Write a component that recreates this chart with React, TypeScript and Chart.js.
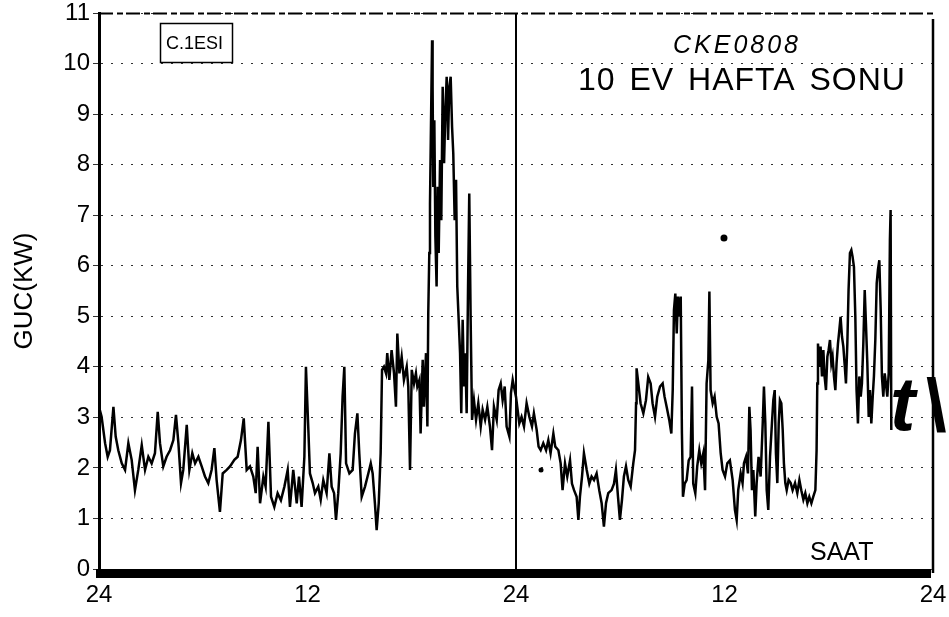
import React, { useEffect, useRef } from 'react';
import { Chart, registerables } from 'chart.js';

Chart.register(...registerables);

// ---- data (hours since start of the 48 h window, power in kW) ----
const hours = [
  0.00, 0.15, 0.35, 0.50, 0.63, 0.83, 0.96, 1.11, 1.31, 1.50, 1.69, 1.88, 2.07, 2.26, 2.46, 2.65, 2.84, 3.03, 3.22, 3.38,
  3.51, 3.70, 3.89, 4.09, 4.28, 4.43, 4.57, 4.72, 4.85, 5.05, 5.20, 5.37, 5.53, 5.72, 5.91, 6.10, 6.29, 6.48, 6.64, 6.77,
  6.96, 7.12, 7.35, 7.54, 7.79, 7.98, 8.17, 8.33, 8.50, 8.69, 8.88, 9.02, 9.13, 9.27, 9.46, 9.59, 9.75, 9.90, 10.09, 10.28,
  10.47, 10.67, 10.86, 10.99, 11.18, 11.38, 11.51, 11.66, 11.82, 11.91, 12.05,
  12.14, 12.30, 12.43, 12.62, 12.76, 12.91, 13.10, 13.26, 13.39, 13.53, 13.64, 13.77, 13.91, 14.02, 14.12, 14.22, 14.41, 14.60, 14.73, 14.87,
  14.98, 15.12, 15.31, 15.50, 15.64, 15.75, 15.88, 15.98, 16.10, 16.21, 16.29, 16.40, 16.52, 16.59, 16.71, 16.84, 16.98, 17.09, 17.17, 17.29,
  17.42, 17.55, 17.71, 17.80, 17.90, 18.00, 18.13, 18.24, 18.32, 18.44, 18.51, 18.63, 18.70, 18.82, 18.90, 18.95, 19.01, 19.05, 19.11, 19.17,
  19.20, 19.24, 19.30, 19.36, 19.43, 19.49, 19.55, 19.63, 19.70, 19.78, 19.86, 19.93, 20.01, 20.09, 20.16, 20.24, 20.32, 20.39, 20.47, 20.55,
  20.62, 20.70, 20.78, 20.85, 20.93, 21.01, 21.08, 21.16, 21.24, 21.31, 21.39, 21.47, 21.58, 21.70, 21.83, 21.97, 22.08, 22.22, 22.35, 22.50,
  22.62, 22.73, 22.89, 23.00, 23.12, 23.23, 23.35, 23.46, 23.62, 23.71, 23.81, 23.88, 24.00,
  24.19, 24.32, 24.46, 24.61, 24.77, 24.92, 25.03, 25.19, 25.30, 25.42, 25.57, 25.73, 25.86, 25.99, 26.15, 26.26, 26.44, 26.57, 26.68, 26.82,
  26.95, 27.11, 27.22, 27.34, 27.49, 27.59, 27.68, 27.80, 27.91, 28.07, 28.22, 28.35, 28.49, 28.64, 28.79, 28.93, 29.06, 29.18, 29.31, 29.50,
  29.64, 29.75, 29.87, 29.98, 30.10, 30.21, 30.33, 30.46, 30.60, 30.75, 30.85, 30.91, 30.94, 31.04, 31.17, 31.33, 31.48, 31.61, 31.75, 31.86,
  32.00, 32.13, 32.29, 32.44, 32.55, 32.67, 32.82, 32.94, 33.02, 33.09, 33.17, 33.25, 33.32, 33.40, 33.48, 33.55, 33.61, 33.71, 33.82, 33.94,
  34.05, 34.13, 34.20, 34.32, 34.43, 34.55, 34.66, 34.78, 34.88, 34.97, 35.07, 35.13, 35.20, 35.32, 35.43, 35.55, 35.66, 35.78, 35.89, 36.03,
  36.16, 36.31,
  36.47, 36.60, 36.70, 36.79, 36.93, 37.04, 37.12, 37.24, 37.35, 37.43, 37.50, 37.58, 37.66, 37.77, 37.85, 37.96, 38.08, 38.20, 38.27, 38.35,
  38.43, 38.52, 38.62, 38.73, 38.81, 38.89, 38.96, 39.04, 39.12, 39.19, 39.27, 39.35, 39.42, 39.50, 39.58, 39.69, 39.81, 39.92, 40.06, 40.19,
  40.31, 40.42, 40.54, 40.65, 40.77, 40.88, 41.00, 41.11, 41.23, 41.30, 41.34, 41.38, 41.46, 41.53, 41.61, 41.69, 41.76, 41.84, 41.92, 41.99,
  42.07, 42.15, 42.22, 42.30, 42.38, 42.45, 42.53, 42.61, 42.68, 42.76, 42.84, 42.91, 42.99, 43.07, 43.14, 43.22, 43.30, 43.37, 43.45, 43.53,
  43.60, 43.68, 43.76, 43.84, 43.91, 43.99, 44.07, 44.14, 44.22, 44.30, 44.37, 44.45, 44.53, 44.60, 44.68, 44.76, 44.83, 44.91, 44.99, 45.06,
  45.14, 45.22, 45.29, 45.37, 45.45, 45.52, 45.56, 45.60,
];

const kw = [
  3.21, 3.01, 2.49, 2.22, 2.35, 3.21, 2.62, 2.35, 2.09, 1.96, 2.49, 2.16, 1.56, 1.96, 2.45, 1.96, 2.22, 2.09, 2.29, 3.11,
  2.49, 2.03, 2.22, 2.35, 2.55, 3.05, 2.49, 1.70, 1.96, 2.85, 1.96, 2.29, 2.09, 2.22, 2.03, 1.83, 1.70, 1.96, 2.39, 1.76,
  1.13, 1.89, 1.96, 2.03, 2.16, 2.22, 2.55, 2.98, 1.96, 2.03, 1.83, 1.50, 2.42, 1.30, 1.83, 1.63, 2.91, 1.43, 1.23, 1.50,
  1.36, 1.63, 1.96, 1.23, 1.96, 1.30, 1.83, 1.23, 2.22, 4.00, 2.75,
  1.89, 1.70, 1.50, 1.63, 1.37, 1.76, 1.50, 2.29, 1.63, 1.50, 0.97, 1.50, 2.29, 3.41, 4.00, 2.09, 1.89, 1.96, 2.68, 3.08,
  2.29, 1.43, 1.63, 1.89, 2.09, 1.89, 1.30, 0.77, 1.30, 2.29, 3.94, 4.00, 3.87, 4.27, 3.74, 4.33, 3.87, 3.21, 4.66, 3.87,
  4.20, 3.74, 4.00, 3.61, 1.96, 3.94, 3.67, 3.87, 3.61, 3.74, 2.68, 4.14, 3.21, 4.27, 2.82, 5.06, 6.25, 7.23, 8.88, 10.46,
  9.54, 7.56, 8.88, 6.58, 5.59, 7.56, 6.25, 8.09, 6.90, 9.54, 8.03, 9.01, 9.74, 8.49, 9.54, 9.74, 8.75, 8.22, 6.90, 7.70,
  5.59, 4.93, 4.27, 3.08, 4.93, 3.61, 4.27, 3.08, 5.59, 7.43, 4.93, 2.95, 3.34, 2.95, 3.28, 2.82, 3.15, 2.95, 3.21, 2.82,
  2.35, 3.21, 2.95, 3.54, 3.67, 3.34, 3.61, 2.82, 2.62, 3.48, 3.74, 3.61, 3.41,
  2.88, 3.01, 2.82, 3.28, 3.01, 2.82, 3.08, 2.75, 2.42, 2.35, 2.49, 2.35, 2.55, 2.29, 2.68, 2.42, 2.35, 2.09, 1.56, 2.09,
  1.83, 2.15, 1.69, 1.56, 1.43, 0.97, 1.43, 1.83, 2.29, 1.96, 1.69, 1.83, 1.76, 1.89, 1.56, 1.30, 0.84, 1.30, 1.50, 1.56,
  1.69, 1.96, 1.43, 0.97, 1.37, 1.83, 2.03, 1.76, 1.63, 2.09, 2.35, 3.28, 3.97, 3.67, 3.28, 3.08, 3.34, 3.80, 3.67, 3.28,
  3.01, 3.41, 3.61, 3.67, 3.41, 3.21, 2.95, 2.68, 3.54, 5.12, 5.45, 4.66, 5.39, 4.99, 5.39, 2.68, 1.43, 1.69, 1.76, 2.15,
  2.22, 3.61, 1.69, 1.50, 2.03, 2.35, 2.09, 2.29, 1.56, 3.67, 4.13, 5.49, 3.54, 3.28, 3.41, 3.01, 2.88, 2.29, 1.96, 1.83,
  2.09, 2.15,
  1.76, 1.17, 0.97, 1.56, 1.89, 1.70, 2.09, 2.22, 1.89, 3.21, 2.75, 1.56, 1.96, 1.04, 1.70, 2.22, 1.83, 2.88, 3.61, 2.88,
  1.56, 1.17, 2.22, 2.88, 3.34, 3.54, 2.29, 1.70, 2.88, 3.34, 3.28, 2.75, 2.09, 1.70, 1.56, 1.76, 1.70, 1.56, 1.70, 1.50,
  1.76, 1.56, 1.37, 1.50, 1.30, 1.43, 1.30, 1.43, 1.56, 2.35, 3.67, 4.46, 4.00, 4.40, 3.81, 4.33, 3.81, 3.54, 4.20, 4.33,
  4.53, 4.07, 4.20, 3.81, 3.54, 4.07, 4.46, 4.73, 4.99, 4.60, 4.40, 4.07, 3.67, 4.46, 5.52, 6.25, 6.31, 6.18, 5.98, 4.99,
  3.54, 2.88, 3.81, 3.41, 3.67, 4.46, 5.52, 4.86, 4.07, 3.01, 3.54, 2.88, 3.41, 3.81, 4.53, 5.65, 5.92, 6.11, 5.12, 3.81,
  3.41, 3.87, 3.67, 3.41, 3.87, 6.51, 7.10, 2.75,
];

const strayHours = [35.97, 25.44];
const strayKw = [6.55, 1.96];

const xTickValues = [0, 12, 24, 36, 48];
const xTickLabels = ['24', '12', '24', '12', '24'];
const yMin = 0;
const yMax = 11;
const dayBoundaries = [24];

const yTitle = 'GUC(KW)';
const boxLabel = 'C.1ESI';
const codeLabel = 'CKE0808';
const titleLabel = '10 EV HAFTA SONU';
const xAxisLabel = 'SAAT';
const cornerLetter = 't';
const cornerSlash = '\\';

const FONT = '"Liberation Sans", Arial, Helvetica, sans-serif';

const decorPlugin = {
  id: 'decor',
  afterDraw(chart: any) {
    const ctx = chart.ctx as any;
    const { left, right, top, bottom } = chart.chartArea;
    ctx.save();
    ctx.fillStyle = '#000';
    ctx.strokeStyle = '#000';

    // top broken border
    ctx.lineWidth = 2;
    ctx.setLineDash([14, 4, 6, 3]);
    ctx.beginPath();
    ctx.moveTo(left, top + 0.5);
    ctx.lineTo(right, top + 0.5);
    ctx.stroke();
    ctx.setLineDash([]);

    // right border
    ctx.lineWidth = 2.5;
    ctx.beginPath();
    ctx.moveTo(right, top + 6);
    ctx.lineTo(right, bottom + 4);
    ctx.stroke();

    // bottom thick band
    ctx.fillRect(left - 3, bottom, right - left + 1, 9);

    // small boxed label
    ctx.lineWidth = 1.5;
    ctx.strokeRect(160.5, 23.5, 72, 39);
    ctx.font = `18px ${FONT}`;
    ctx.textBaseline = 'alphabetic';
    ctx.textAlign = 'left';
    ctx.fillText(boxLabel, 166, 49);

    // code label
    ctx.font = `italic 25px ${FONT}`;
    ctx.letterSpacing = '3px';
    ctx.fillText(codeLabel, 673, 53);

    // main title
    ctx.font = `32px ${FONT}`;
    ctx.letterSpacing = '1px';
    ctx.wordSpacing = '4px';
    ctx.fillText(titleLabel, 578, 90);
    ctx.letterSpacing = '0px';
    ctx.wordSpacing = '0px';

    // x axis label
    ctx.font = `25px ${FONT}`;
    ctx.fillText(xAxisLabel, 810, 560);

    // corner mark
    ctx.font = `italic bold 76px ${FONT}`;
    ctx.fillText(cornerLetter, 890, 430);
    ctx.font = `bold 74px ${FONT}`;
    ctx.fillText(cornerSlash, 926, 431);

    ctx.restore();
  },
};

export default function App() {
  const canvasRef = useRef<HTMLCanvasElement | null>(null);

  useEffect(() => {
    if (!canvasRef.current) return;
    const lineData = hours.map((h, i) => ({ x: h, y: kw[i] }));
    const dotData = strayHours.map((h, i) => ({ x: h, y: strayKw[i] }));

    const chart = new Chart(canvasRef.current, {
      type: 'line',
      data: {
        datasets: [
          {
            data: lineData,
            borderColor: '#000',
            borderWidth: 2.5,
            pointRadius: 0,
            tension: 0,
            fill: false,
          },
          {
            type: 'scatter',
            data: dotData,
            pointRadius: [3.5, 2.5],
            pointBackgroundColor: '#000',
            pointBorderWidth: 0,
            showLine: false,
          } as any,
        ],
      },
      options: {
        animation: false,
        responsive: true,
        maintainAspectRatio: false,
        layout: { padding: { top: 13, right: 16, left: 0, bottom: 0 } },
        plugins: {
          legend: { display: false },
          tooltip: { enabled: false },
          title: { display: false },
        },
        scales: {
          x: {
            type: 'linear',
            min: 0,
            max: 48,
            afterFit: (s: any) => {
              s.height = 48;
              s.paddingLeft = 0;
              s.paddingRight = 0;
            },
            afterBuildTicks: (s: any) => {
              s.ticks = xTickValues.map((v) => ({ value: v }));
            },
            ticks: {
              autoSkip: false,
              maxRotation: 0,
              padding: 14,
              color: '#000',
              font: { family: FONT, size: 24, lineHeight: 1 },
              callback: (v: any) => xTickLabels[xTickValues.indexOf(Number(v))] ?? '',
            },
            grid: {
              drawTicks: false,
              lineWidth: 2,
              color: (c: any) =>
                c.tick && dayBoundaries.includes(c.tick.value) ? '#000' : 'rgba(0,0,0,0)',
            },
            border: { display: false },
          },
          y: {
            type: 'linear',
            min: yMin,
            max: yMax,
            afterFit: (s: any) => {
              s.width = 99;
              s.paddingTop = 0;
              s.paddingBottom = 0;
            },
            ticks: {
              stepSize: 1,
              padding: 3,
              color: '#000',
              font: { family: FONT, size: 24, lineHeight: 1 },
            },
            grid: {
              color: '#333',
              lineWidth: 1,
              tickLength: 6,
              drawTicks: true,
            },
            border: { display: true, color: '#000', width: 3, dash: [2, 8] },
            title: {
              display: true,
              text: yTitle,
              color: '#000',
              font: { family: FONT, size: 26 },
              padding: { top: 9, bottom: 0 },
            },
          },
        },
      },
      plugins: [decorPlugin],
    } as any);

    return () => chart.destroy();
  }, []);

  return (
    <div style={{ position: 'absolute', left: 0, top: 0, width: 949, height: 617, background: '#fff' }}>
      <canvas ref={canvasRef} />
    </div>
  );
}
